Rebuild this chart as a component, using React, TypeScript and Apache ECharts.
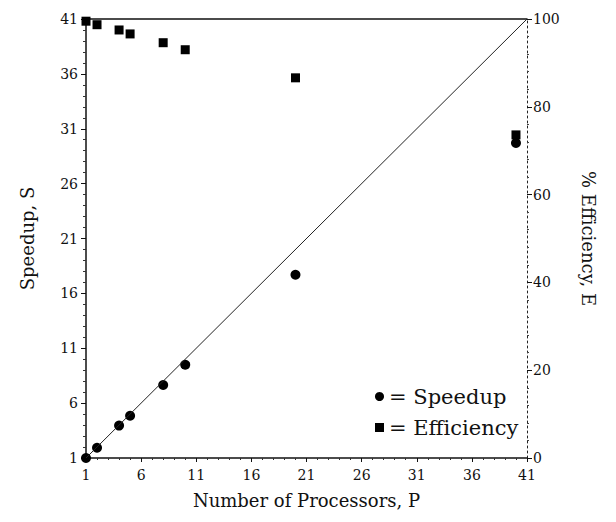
import React, { useEffect, useRef } from "react";
import * as echarts from "echarts";

const processors = [1, 2, 4, 5, 8, 10, 20, 40];
const speedup = [1.0, 1.93, 3.95, 4.85, 7.65, 9.5, 17.7, 29.7];
const efficiency = [99.5, 98.7, 97.5, 96.6, 94.6, 93.0, 86.6, 73.6];
const idealLine = [
  [1, 1],
  [41, 41],
];

const FONT = "DejaVu Serif";

export default function App() {
  const ref = useRef<HTMLDivElement>(null);
  useEffect(() => {
    if (!ref.current) return;
    const chart = echarts.init(ref.current, undefined, { renderer: "svg" });
    chart.setOption({
      animation: false,
      backgroundColor: "#ffffff",
      textStyle: { fontFamily: FONT, color: "#111" },
      grid: { left: 78, right: 81, top: 11, bottom: 51, containLabel: false },
      legend: {
        data: ["Speedup", "Efficiency"],
        orient: "vertical",
        left: 362,
        top: 373,
        itemWidth: 9,
        itemHeight: 9,
        itemGap: 10,
        formatter: (n: string) => "= " + n,
        textStyle: { fontFamily: FONT, fontSize: 21, color: "#111" },
      },
      xAxis: [
        {
          type: "value",
          min: 1,
          max: 41,
          interval: 5,
          name: "Number of Processors, P",
          nameLocation: "middle",
          nameGap: 33,
          nameTextStyle: { fontFamily: FONT, fontSize: 18, color: "#111" },
          axisLine: { show: true, lineStyle: { color: "#111", width: 1.5 } },
          axisTick: { show: true, length: 4, lineStyle: { color: "#111" } },
          minorTick: { show: true, splitNumber: 5, length: 2, lineStyle: { color: "#333" } },
          axisLabel: { fontFamily: FONT, fontSize: 14, color: "#111", margin: 10 },
          splitLine: { show: false },
        },
        {
          type: "value",
          position: "top",
          min: 1,
          max: 41,
          axisLine: { show: true, lineStyle: { color: "#111", width: 1.5 } },
          axisTick: { show: false },
          axisLabel: { show: false },
          splitLine: { show: false },
        },
      ],
      yAxis: [
        {
          type: "value",
          min: 1,
          max: 41,
          interval: 5,
          name: "Speedup, S",
          nameLocation: "middle",
          nameGap: 50,
          nameTextStyle: { fontFamily: FONT, fontSize: 18, color: "#111" },
          axisLine: { show: true, lineStyle: { color: "#111", width: 1.5 } },
          axisTick: { show: true, length: 5, lineStyle: { color: "#111" } },
          minorTick: { show: true, splitNumber: 5, length: 3, lineStyle: { color: "#333" } },
          axisLabel: { fontFamily: FONT, fontSize: 14, color: "#111", margin: 8 },
          splitLine: { show: false },
        },
        {
          type: "value",
          position: "right",
          min: 0,
          max: 100,
          interval: 20,
          name: "% Efficiency, E",
          nameLocation: "middle",
          nameGap: 52,
          nameRotate: -90,
          nameTextStyle: { fontFamily: FONT, fontSize: 18, color: "#111" },
          axisLine: { show: true, lineStyle: { color: "#222", width: 1, type: [2, 3] } },
          axisTick: { show: true, length: 5, lineStyle: { color: "#111" } },
          minorTick: { show: true, splitNumber: 5, length: 2, lineStyle: { color: "#444" } },
          axisLabel: { fontFamily: FONT, fontSize: 14, color: "#111", margin: 6 },
          splitLine: { show: false },
        },
      ],
      series: [
        {
          name: "Ideal",
          type: "line",
          xAxisIndex: 0,
          yAxisIndex: 0,
          data: idealLine,
          showSymbol: false,
          symbol: "none",
          lineStyle: { color: "#222", width: 1 },
          silent: true,
        },
        {
          name: "Speedup",
          type: "scatter",
          xAxisIndex: 0,
          yAxisIndex: 0,
          symbol: "circle",
          symbolSize: 10,
          itemStyle: { color: "#000", opacity: 1 },
          data: processors.map((p, i) => [p, speedup[i]]),
        },
        {
          name: "Efficiency",
          type: "scatter",
          xAxisIndex: 0,
          yAxisIndex: 1,
          symbol: "rect",
          symbolSize: 9,
          itemStyle: { color: "#000", opacity: 1 },
          data: processors.map((p, i) => [p, efficiency[i]]),
        },
      ],
    });
    return () => chart.dispose();
  }, []);
  return <div ref={ref} style={{ width: 600, height: 506 }} />;
}
